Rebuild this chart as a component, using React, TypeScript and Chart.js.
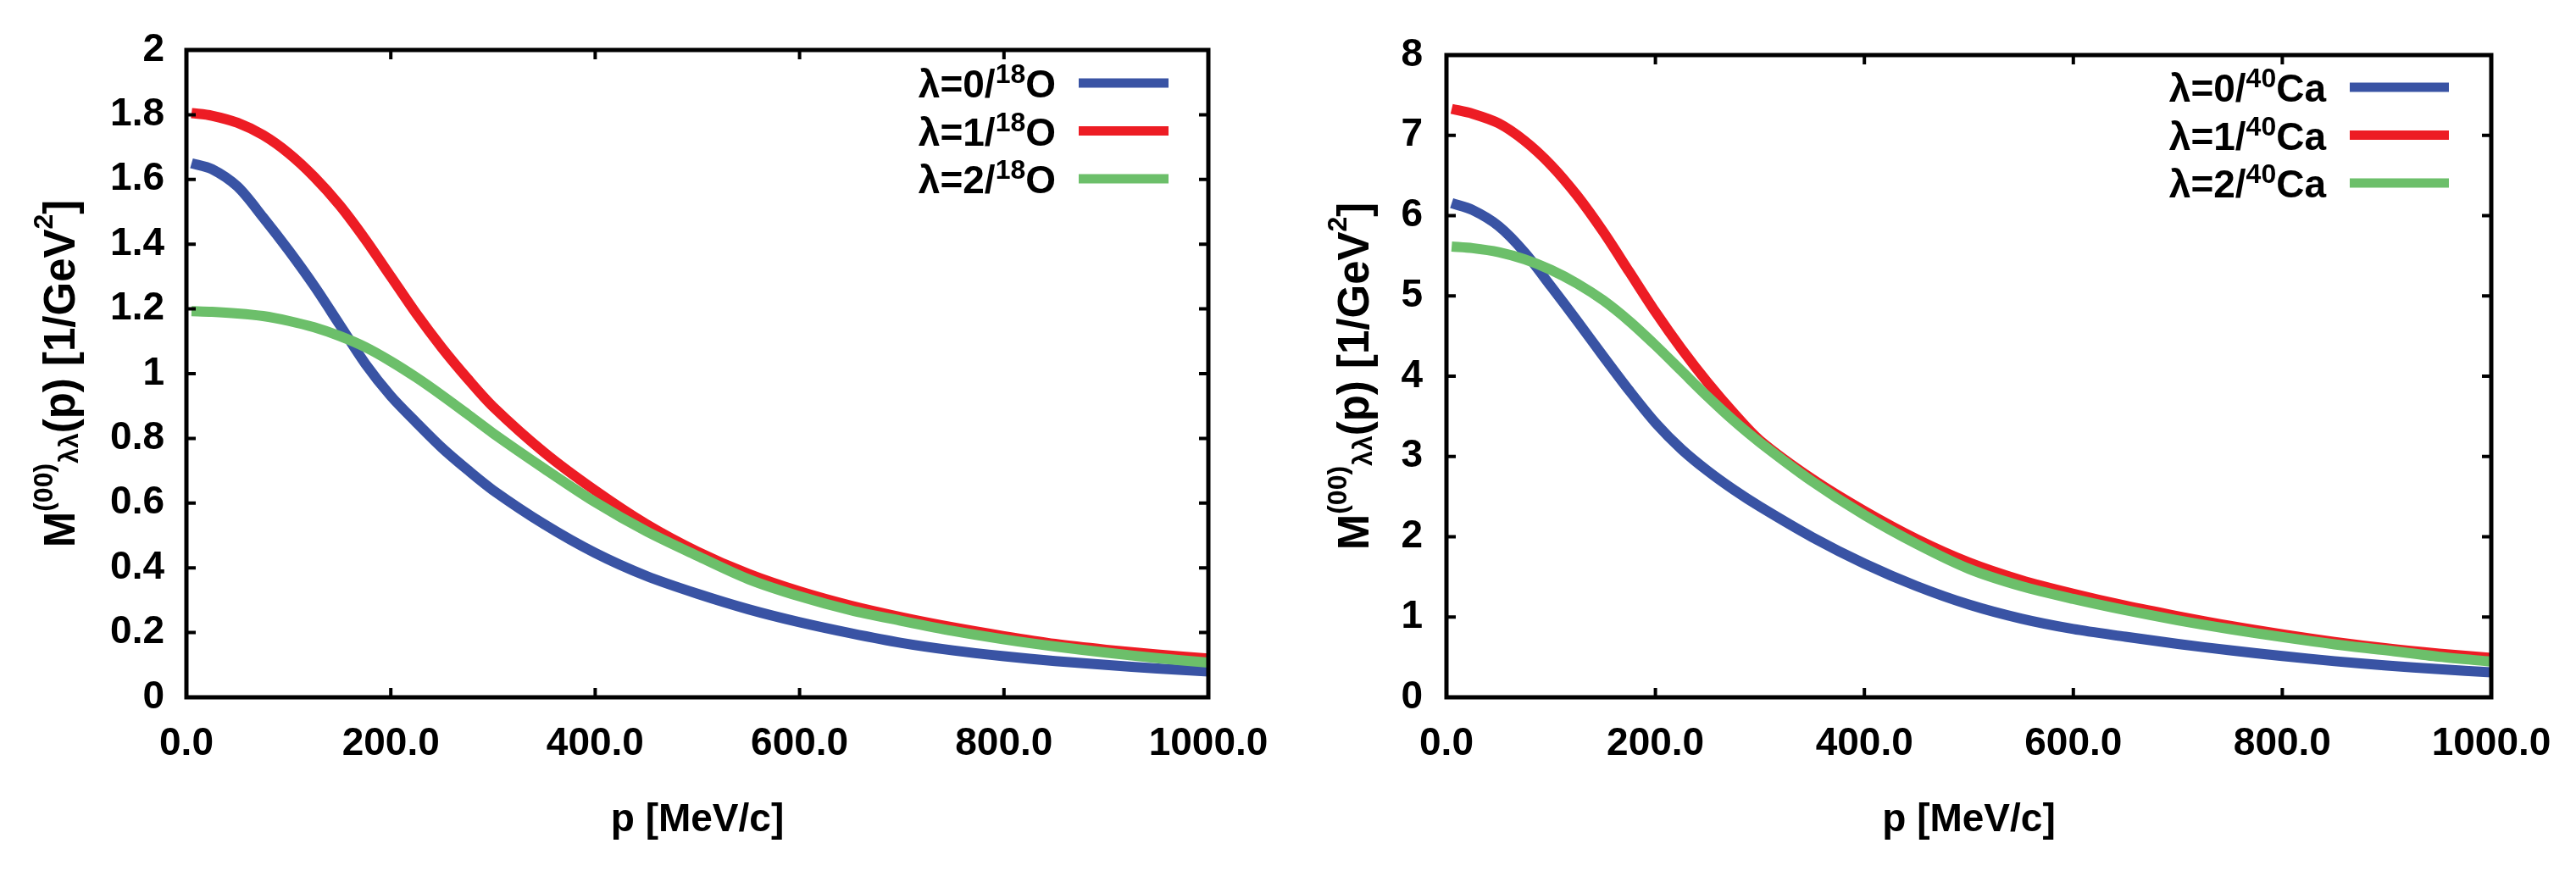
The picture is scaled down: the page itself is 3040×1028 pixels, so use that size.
import { useEffect, useRef } from 'react';
import { Chart, registerables } from 'chart.js';
import type { Plugin } from 'chart.js';

Chart.register(...registerables);

// momentum grid, MeV/c
const momentum = [5, 25, 50, 75, 100, 125, 150, 175, 200, 225, 250, 275, 300, 350, 400, 450, 500, 550, 600, 650, 700, 750, 800, 850, 900, 950, 1000];

// 18O, 1/GeV^2
const oxygenLambda0 = [1.65, 1.632, 1.578, 1.483, 1.381, 1.271, 1.151, 1.031, 0.931, 0.849, 0.771, 0.703, 0.64, 0.535, 0.446, 0.375, 0.32, 0.272, 0.232, 0.198, 0.168, 0.145, 0.127, 0.112, 0.1, 0.089, 0.08];
const oxygenLambda1 = [1.805, 1.797, 1.775, 1.737, 1.681, 1.608, 1.52, 1.415, 1.3, 1.185, 1.08, 0.985, 0.898, 0.757, 0.639, 0.535, 0.45, 0.381, 0.327, 0.283, 0.247, 0.216, 0.189, 0.165, 0.147, 0.132, 0.12];
const oxygenLambda2 = [1.193, 1.191, 1.186, 1.178, 1.163, 1.143, 1.116, 1.082, 1.038, 0.988, 0.933, 0.875, 0.816, 0.707, 0.603, 0.513, 0.437, 0.365, 0.312, 0.269, 0.236, 0.205, 0.179, 0.157, 0.138, 0.121, 0.107];

// 40Ca, 1/GeV^2
const calciumLambda0 = [6.155, 6.07, 5.87, 5.54, 5.12, 4.69, 4.25, 3.82, 3.42, 3.09, 2.82, 2.585, 2.375, 1.995, 1.665, 1.385, 1.155, 0.98, 0.85, 0.755, 0.665, 0.585, 0.515, 0.45, 0.395, 0.35, 0.31];
const calciumLambda1 = [7.33, 7.27, 7.15, 6.93, 6.63, 6.25, 5.8, 5.3, 4.8, 4.34, 3.92, 3.54, 3.2, 2.72, 2.32, 1.97, 1.68, 1.46, 1.29, 1.14, 1.01, 0.89, 0.785, 0.69, 0.61, 0.545, 0.49];
const calciumLambda2 = [5.615, 5.595, 5.545, 5.455, 5.325, 5.155, 4.945, 4.685, 4.385, 4.065, 3.745, 3.445, 3.175, 2.69, 2.27, 1.91, 1.6, 1.385, 1.225, 1.085, 0.96, 0.85, 0.75, 0.66, 0.585, 0.505, 0.445];

const lambdaLabels = ['λ=0/', 'λ=1/', 'λ=2/'];
const lineColors = ['#3953a4', '#ed1c24', '#6cbf6a'];

const FONT = '"Liberation Sans", Arial, sans-serif';

type Run = { text: string; size: number; rise: number };

const drawRuns = (ctx: CanvasRenderingContext2D, runs: Run[], x: number, y: number, align: 'right' | 'center') => {
  const widths = runs.map((r) => {
    ctx.font = `bold ${r.size}px ${FONT}`;
    return ctx.measureText(r.text).width;
  });
  const total = widths.reduce((a, b) => a + b, 0);
  let cx = align === 'right' ? x - total : x - total / 2;
  runs.forEach((r, i) => {
    ctx.font = `bold ${r.size}px ${FONT}`;
    ctx.fillText(r.text, cx, y - r.rise);
    cx += widths[i];
  });
};

interface PanelProps {
  left: number;
  width: number;
  yMax: number;
  yStep: number;
  series: number[][];
  mass: string;
  element: string;
  pad: { top: number; right: number };
  yAxisWidth: number;
  yLabelPad: number;
  titleX: number;
  legend: { textGap: number; lineGap: number; lineEnd: number; rowTop: number };
}

// gnuplot-like frame with inward ticks on all four sides
const framePlugin: Plugin<'line'> = {
  id: 'frame',
  afterDatasetsDraw(chart) {
    const { ctx, chartArea: a, scales } = chart;
    ctx.save();
    ctx.strokeStyle = '#000';
    ctx.lineWidth = 4;
    const tick = 11;
    scales.x.ticks.forEach((t) => {
      if (t.value <= scales.x.min || t.value >= scales.x.max) return;
      const px = scales.x.getPixelForValue(t.value);
      ctx.beginPath();
      ctx.moveTo(px, a.bottom);
      ctx.lineTo(px, a.bottom - tick);
      ctx.moveTo(px, a.top);
      ctx.lineTo(px, a.top + tick);
      ctx.stroke();
    });
    scales.y.ticks.forEach((t) => {
      if (t.value <= scales.y.min || t.value >= scales.y.max) return;
      const py = scales.y.getPixelForValue(t.value);
      ctx.beginPath();
      ctx.moveTo(a.left, py);
      ctx.lineTo(a.left + tick, py);
      ctx.moveTo(a.right, py);
      ctx.lineTo(a.right - tick, py);
      ctx.stroke();
    });
    ctx.lineWidth = 5;
    ctx.strokeRect(a.left, a.top, a.right - a.left, a.bottom - a.top);
    ctx.restore();
  },
};

const Panel = (props: PanelProps) => {
  const canvasRef = useRef<HTMLCanvasElement>(null);
  const chartRef = useRef<Chart<'line'> | null>(null);

  useEffect(() => {
    if (!canvasRef.current) return;
    if (chartRef.current) chartRef.current.destroy();

    const { legend } = props;

    const overlayPlugin: Plugin<'line'> = {
      id: 'overlay',
      afterDraw(chart) {
        const { ctx, chartArea: a } = chart;
        ctx.save();
        ctx.fillStyle = '#000';
        ctx.textBaseline = 'alphabetic';

        // y axis title with super/subscripts
        ctx.save();
        ctx.translate(props.titleX, (a.top + a.bottom) / 2);
        ctx.rotate(-Math.PI / 2);
        drawRuns(ctx, [
          { text: 'M', size: 51, rise: 0 },
          { text: '(00)', size: 32, rise: 26 },
          { text: 'λλ', size: 32, rise: -4 },
          { text: '(p) [1/GeV', size: 51, rise: 0 },
          { text: '2', size: 32, rise: 26 },
          { text: ']', size: 51, rise: 0 },
        ], 0, 0, 'center');
        ctx.restore();

        // key
        const textRight = a.right - legend.textGap;
        lambdaLabels.forEach((lab, i) => {
          const rowY = a.top + legend.rowTop + i * 56.5;
          ctx.fillStyle = '#000';
          drawRuns(ctx, [
            { text: lab, size: 46, rise: 0 },
            { text: props.mass, size: 32, rise: 17 },
            { text: props.element, size: 46, rise: 0 },
          ], textRight, rowY + 17, 'right');
          ctx.strokeStyle = lineColors[i];
          ctx.lineWidth = 11;
          ctx.beginPath();
          ctx.moveTo(textRight + legend.lineGap, rowY);
          ctx.lineTo(a.right - legend.lineEnd, rowY);
          ctx.stroke();
        });
        ctx.restore();
      },
    };

    const tickFont = { family: FONT, size: 46, weight: 'bold' as const };

    chartRef.current = new Chart(canvasRef.current, {
      type: 'line',
      data: {
        datasets: props.series.map((vals, i) => ({
          label: `${lambdaLabels[i]}${props.mass}${props.element}`,
          data: momentum.map((p, j) => ({ x: p, y: vals[j] })),
          borderColor: lineColors[i],
          backgroundColor: lineColors[i],
          borderWidth: 12,
          pointRadius: 0,
          tension: 0.3,
          order: 2 - i,
        })),
      },
      options: {
        animation: false,
        responsive: true,
        maintainAspectRatio: false,
        layout: { padding: { top: props.pad.top, right: props.pad.right, left: 0, bottom: 0 } },
        plugins: {
          legend: { display: false },
          tooltip: { enabled: false },
        },
        scales: {
          x: {
            type: 'linear',
            min: 0,
            max: 1000,
            grid: { display: false, drawTicks: false },
            border: { display: false },
            ticks: {
              stepSize: 200,
              autoSkip: false,
              maxRotation: 0,
              padding: 28,
              color: '#000',
              font: tickFont,
              callback: (v) => Number(v).toFixed(1),
            },
            title: {
              display: true,
              text: 'p [MeV/c]',
              color: '#000',
              font: tickFont,
              padding: { top: 0, bottom: 32 },
            },
            afterFit: (s) => { s.height = 205; },
          },
          y: {
            type: 'linear',
            min: 0,
            max: props.yMax,
            grid: { display: false, drawTicks: false },
            border: { display: false },
            ticks: {
              stepSize: props.yStep,
              autoSkip: false,
              padding: props.yLabelPad,
              color: '#000',
              font: tickFont,
              callback: (v) => String(Number(Number(v).toFixed(1))),
            },
            afterFit: (s) => { s.width = props.yAxisWidth; },
          },
        },
      },
      plugins: [framePlugin, overlayPlugin],
    });

    return () => {
      if (chartRef.current) {
        chartRef.current.destroy();
        chartRef.current = null;
      }
    };
  }, []);

  return (
    <div style={{
      position: 'absolute',
      left: props.left,
      top: 0,
      width: props.width,
      height: 1028 
    }}>
      <canvas ref={canvasRef} />
    </div>
  );
};

export default function App() {
  return (
    <div style={{
      position: 'absolute',
      left: 0,
      top: 0,
      width: 3040,
      height: 1028,
      background: '#fff',
      overflow: 'hidden' 
    }}>
      <Panel
        left={0}
        width={1540}
        yMax={2}
        yStep={0.2}
        series={[oxygenLambda0, oxygenLambda1, oxygenLambda2]}
        mass="18"
        element="O"
        pad={{ top: 59, right: 114 }}
        yAxisWidth={220}
        yLabelPad={26}
        titleX={88}
        legend={{ textGap: 180, lineGap: 27, lineEnd: 47, rowTop: 39 }}
      />
      <Panel
        left={1540}
        width={1500}
        yMax={8}
        yStep={1}
        series={[calciumLambda0, calciumLambda1, calciumLambda2]}
        mass="40"
        element="Ca"
        pad={{ top: 65, right: 100 }}
        yAxisWidth={167}
        yLabelPad={28}
        titleX={75}
        legend={{ textGap: 195, lineGap: 28, lineEnd: 50, rowTop: 38 }}
      />
    </div>
  );
}
